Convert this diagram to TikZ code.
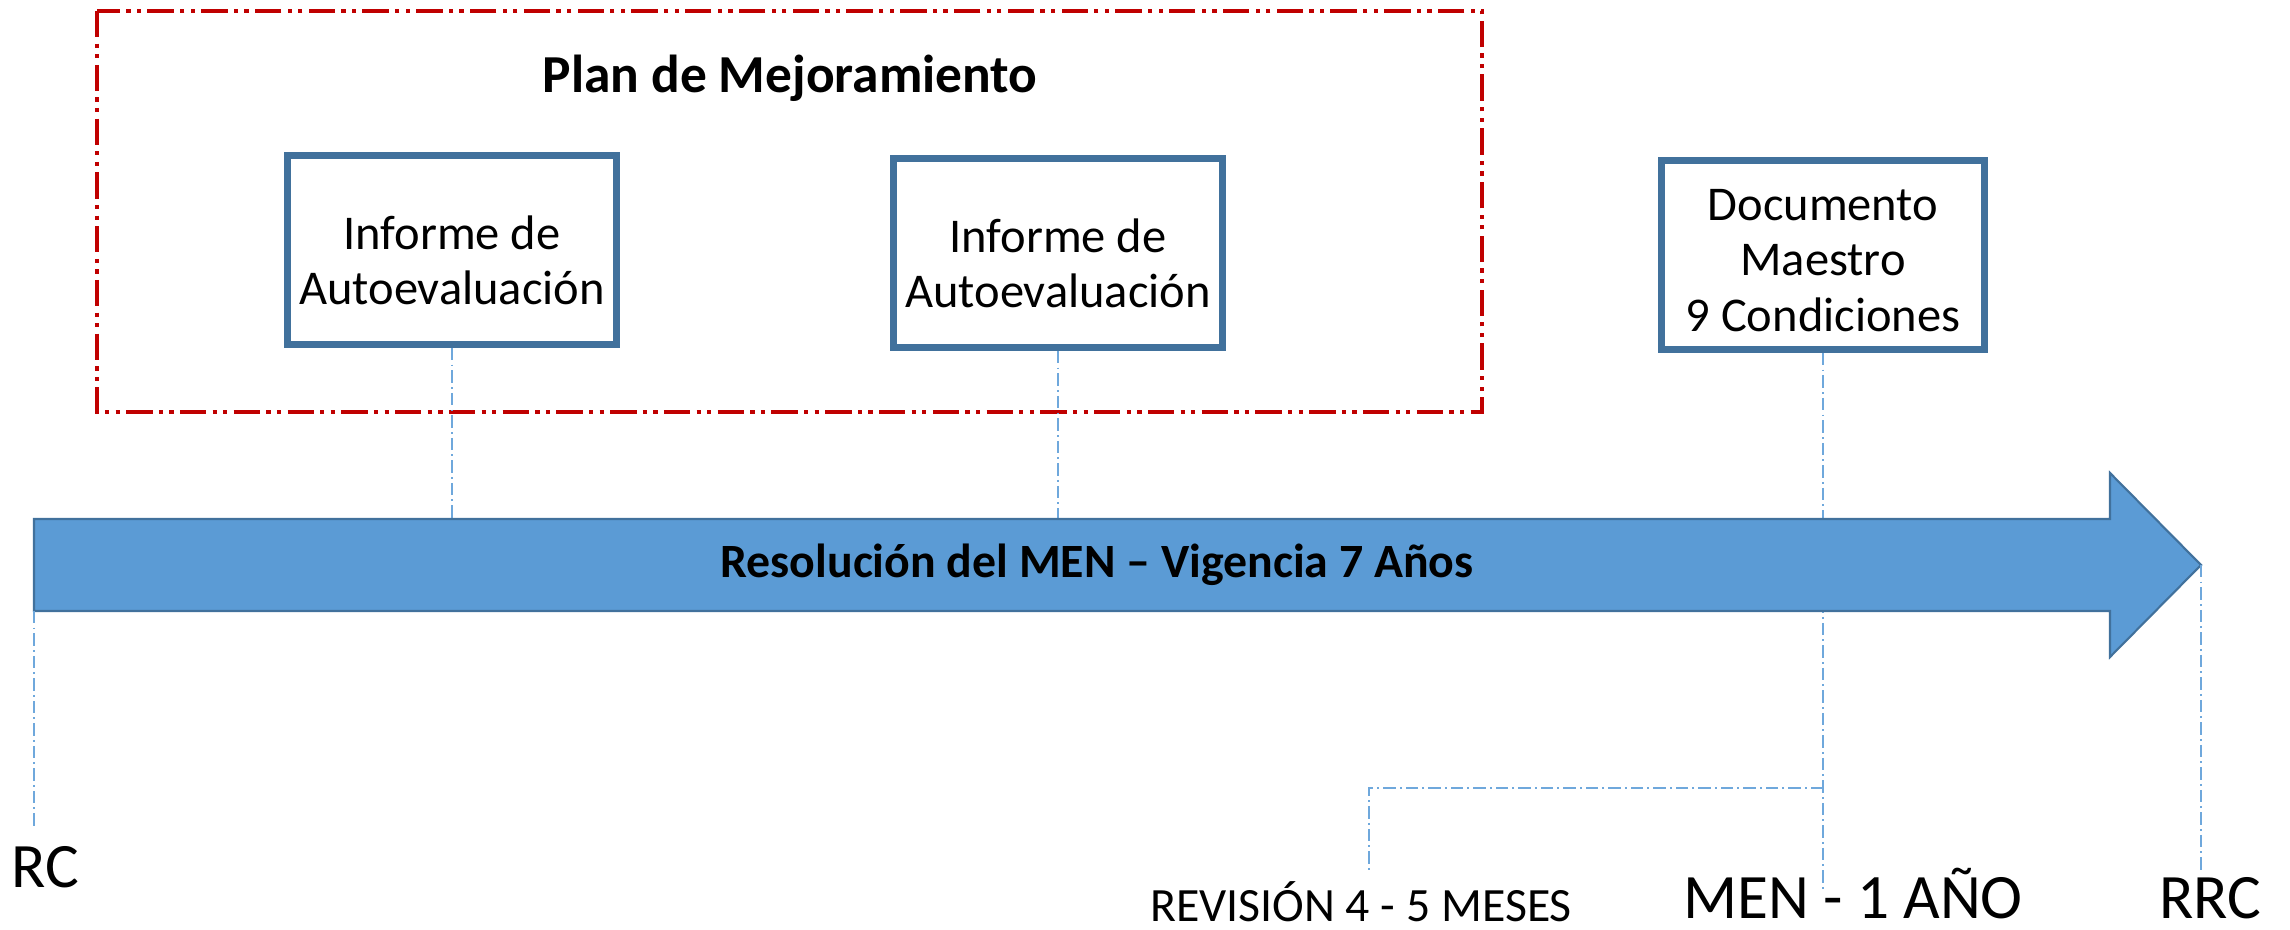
\documentclass[tikz,border=0pt]{standalone}
\usepackage{fontspec}
\setmainfont{Carlito}
\definecolor{boxblue}{HTML}{41719C}
\definecolor{arrowblue}{HTML}{5B9BD5}
\definecolor{lineblue}{HTML}{6FA8DC}
\definecolor{planred}{HTML}{C00000}
\newcommand{\alto}[1]{\rule{0pt}{#1}}
\tikzset{
  infobox/.style={draw=boxblue,line width=2pt,fill=white,minimum width=3.23cm,
    minimum height=1.89cm,align=center,font=\fontsize{13.8}{15.9}\selectfont},
  guide/.style={lineblue,line width=0.5pt,dash pattern=on 3.5pt off 1.2pt on 0.5pt off 1.2pt},
  hito/.style={anchor=base,font=\fontsize{18}{20}\selectfont},
}
\begin{document}
\begin{tikzpicture}
\useasboundingbox (0,0) rectangle (22.9,9.3);
%\draw[step=1cm,gray,very thin] (0,0) grid (22.9,9.3);
% plan de mejoramiento
\draw[planred,line width=1.1pt,dash pattern=on 7.5pt off 1.8pt on 1.2pt off 1.8pt on 1.2pt off 1.8pt] (0.97,9.19) rectangle (14.82,5.18);
\node[anchor=base,font=\bfseries\fontsize{15.2}{18}\selectfont] (plan) at (7.9,8.37) {Plan de Mejoramiento};
\node[infobox] (inf1) at (4.52,6.80) {\alto{15.5pt}Informe de\\Autoevaluación};
\node[infobox] (inf2) at (10.58,6.77) {\alto{15.5pt}Informe de\\Autoevaluación};
\node[infobox] (doc) at (18.23,6.75) {\alto{12pt}Documento\\Maestro\\9 Condiciones};
% puntos de referencia
\coordinate (barra) at (0,4.11);
\coordinate (suelo) at (0,0.38);
\coordinate (rama) at (0,1.42);
\coordinate (revend) at (13.69,0.58);
\coordinate (cola) at (0.34,3.19);
\coordinate (rcend) at (0.34,1.02);
\coordinate (punta) at (22.01,3.65);
\coordinate (rrcend) at (22.01,0.58);
% guias
\draw[guide] (inf1.south) -- (inf1.south |- barra);
\draw[guide] (inf2.south) -- (inf2.south |- barra);
\draw[guide] (doc.south) -- (doc.south |- suelo);
\draw[guide] (doc.south |- rama) -- (revend |- rama) -- (revend);
% flecha
\draw[fill=arrowblue,draw=boxblue,line width=0.6pt] (0.34,4.11) -- (21.10,4.11) -- (21.10,4.57) -- (punta) -- (21.10,2.73) -- (21.10,3.19) -- (cola) -- cycle;
\node[font=\bfseries\fontsize{13.6}{16}\selectfont] (vig) at (10.97,3.65) {Resolución del MEN – Vigencia 7 Años};
\draw[guide] (cola) -- (rcend);
\draw[guide] (punta) -- (rrcend);
% hitos
\node[hito] (rc) at (0.45,0.42) {RC};
\node[hito,font=\fontsize{13.6}{16}\selectfont] (rev) at (13.61,0.08) {REVISIÓN 4 - 5 MESES};
\node[hito] (men) at (18.53,0.12) {MEN - 1 AÑO};
\node[hito] (rrc) at (22.10,0.12) {RRC};
\end{tikzpicture}
\end{document}
